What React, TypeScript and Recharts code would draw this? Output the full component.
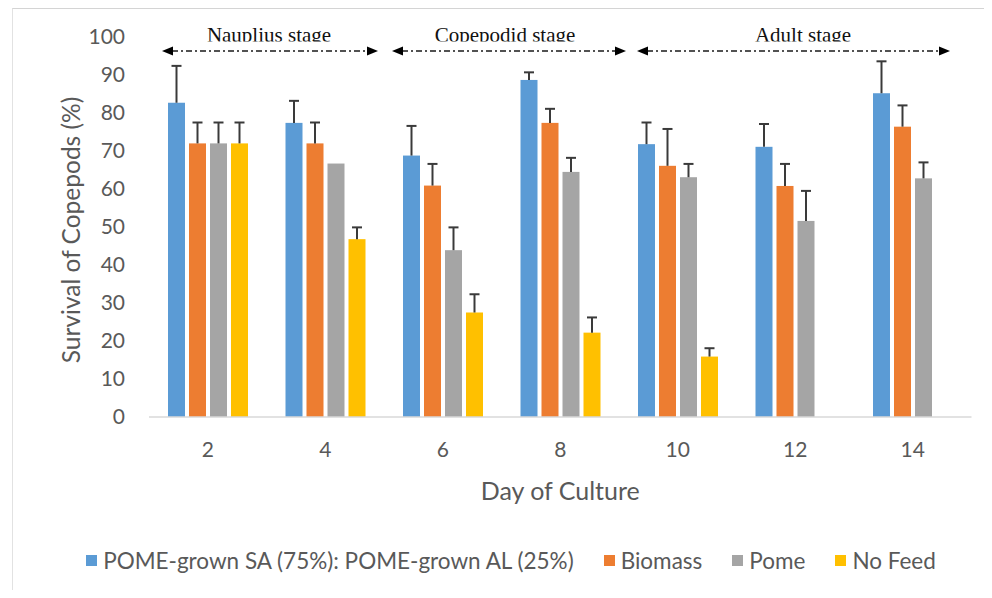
import { Bar, BarChart, Legend, XAxis, YAxis } from "recharts";

// Survival (%) per culture day, with the upper standard-error whisker for each feed
const days = ["2", "4", "6", "8", "10", "12", "14"];
const mixed = [82.7, 77.4, 68.8, 88.7, 71.8, 71.1, 85.2];
const mixedErr = [9.7, 5.8, 7.8, 2.0, 5.7, 6.0, 8.4];
const biomass = [72.0, 72.0, 60.9, 77.4, 66.1, 60.8, 76.4];
const biomassErr = [5.5, 5.5, 5.7, 3.7, 9.7, 5.8, 5.6];
const pome = [72.0, 66.7, 43.9, 64.5, 63.1, 51.6, 62.8];
const pomeErr = [5.5, 0, 6.0, 3.7, 3.5, 7.9, 4.2];
const noFeed = [72.0, 46.8, 27.5, 22.2, 15.9, 0, 0];
const noFeedErr = [5.5, 3.1, 4.8, 4.0, 2.2, 0, 0];

const yTicks = [0, 10, 20, 30, 40, 50, 60, 70, 80, 90, 100];

const stages = [
  { name: "Nauplius stage", from: 154, to: 370, textX: 261 },
  { name: "Copepodid stage", from: 384, to: 618, textX: 497 },
  { name: "Adult stage", from: 629, to: 942, textX: 795 },
];

const series = [
  { key: "mixed", err: "mixedErr", name: "POME-grown SA (75%): POME-grown AL (25%)", color: "#5B9BD5" },
  { key: "biomass", err: "biomassErr", name: "Biomass", color: "#ED7D31" },
  { key: "pome", err: "pomeErr", name: "Pome", color: "#A5A5A5" },
  { key: "noFeed", err: "noFeedErr", name: "No Feed", color: "#FFC000" },
];

const rows = days.map((day, i) => ({
  day,
  mixed: mixed[i],
  mixedErr: mixedErr[i],
  biomass: biomass[i],
  biomassErr: biomassErr[i],
  pome: pome[i],
  pomeErr: pomeErr[i],
  noFeed: noFeed[i],
  noFeedErr: noFeedErr[i],
}));

const AXIS_TEXT = "#595959";

// bar plus an upward-only whisker (Excel "plus" error bars), scaled from the bar's own px/unit
function barWithWhisker(valueKey: string, errKey: string) {
  return (props: any) => {
    const { x, y, width, height, fill, payload } = props;
    const value = payload[valueKey];
    const err = payload[errKey];
    if (!value || height <= 0) return <g />;
    const cx = x + width / 2;
    const top = y - (err * height) / value;
    return (
      <g>
        <rect x={x} y={y} width={width} height={height} fill={fill} />
        {err > 0 && (
          <g stroke="#3a3a3a" strokeWidth={2}>
            <line x1={cx} y1={y} x2={cx} y2={top} />
            <line x1={cx - 5} y1={top} x2={cx + 5} y2={top} />
          </g>
        )}
      </g>
    );
  };
}

function LegendRow() {
  return (
    <div style={{ display: "flex", justifyContent: "center", alignItems: "center", gap: 30 }}>
      {series.map((s) => (
        <div key={s.key} style={{ display: "flex", alignItems: "center", gap: 6 }}>
          <span style={{ width: 11, height: 11, background: s.color, display: "inline-block" }} />
          <span style={{ color: AXIS_TEXT, fontSize: 22.5 }}>{s.name}</span>
        </div>
      ))}
    </div>
  );
}

function StageArrow({ from, to, y }: { from: number; to: number; y: number }) {
  return (
    <g>
      <line x1={from + 10} y1={y} x2={to - 10} y2={y} stroke="#1a1a1a" strokeWidth={1.5} strokeDasharray="6 3 2 3" />
      <polygon points={`${from},${y} ${from + 11},${y - 4.5} ${from + 11},${y + 4.5}`} fill="#000" />
      <polygon points={`${to},${y} ${to - 11},${y - 4.5} ${to - 11},${y + 4.5}`} fill="#000" />
    </g>
  );
}

export default function App() {
  return (
    <div style={{ position: "relative", width: 976, height: 582, fontFamily: "Lato, sans-serif", background: "#fff" }}>
      <div style={{ position: "absolute", left: 4, top: 0, right: 0, bottom: 0, borderTop: "1px solid #d4d4d4", borderLeft: "1px solid #e2e2e2" }} />
      <BarChart
        width={976}
        height={582}
        data={rows}
        margin={{ top: 29, right: 12.5, left: 81, bottom: 53 }}
        barSize={17}
        barGap={4}
      >
        <XAxis
          dataKey="day"
          height={90}
          tickLine={false}
          axisLine={{ stroke: "#d9d9d9", strokeWidth: 1.5 }}
          tickMargin={19}
          tick={{ fill: AXIS_TEXT, fontSize: 21 }}
          label={{ value: "Day of Culture", position: "insideBottom", offset: 7, style: { fill: AXIS_TEXT, fontSize: 25 } }}
        />
        <YAxis
          width={60}
          domain={[0, 100]}
          ticks={yTicks}
          interval={0}
          tickLine={false}
          axisLine={false}
          tickMargin={18}
          tick={{ fill: AXIS_TEXT, fontSize: 21 }}
          label={{
            value: "Survival of Copepods (%)",
            angle: -90,
            position: "insideLeft",
            offset: -18,
            dy: 3,
            style: { textAnchor: "middle", fill: AXIS_TEXT, fontSize: 24.5 },
          }}
        />
        {series.map((s) => (
          <Bar
            key={s.key}
            dataKey={s.key}
            name={s.name}
            fill={s.color}
            isAnimationActive={false}
            shape={barWithWhisker(s.key, s.err)}
          />
        ))}
        <Legend
          verticalAlign="bottom"
          content={() => <LegendRow />}
          wrapperStyle={{ left: 15, width: 976, bottom: 13, height: 30 }}
        />
      </BarChart>
      <svg width={976} height={80} style={{ position: "absolute", left: 0, top: 0, pointerEvents: "none" }}>
        <defs>
          <clipPath id="stage-clip">
            <rect x={0} y={0} width={976} height={33.5} />
          </clipPath>
        </defs>
        {stages.map((s) => (
          <g key={s.name}>
            <text
              x={s.textX}
              y={33.5}
              textAnchor="middle"
              clipPath="url(#stage-clip)"
              style={{ fontFamily: "'Liberation Serif', serif", fontSize: 21, fill: "#111" }}
            >
              {s.name}
            </text>
            <StageArrow from={s.from} to={s.to} y={43} />
          </g>
        ))}
      </svg>
    </div>
  );
}
